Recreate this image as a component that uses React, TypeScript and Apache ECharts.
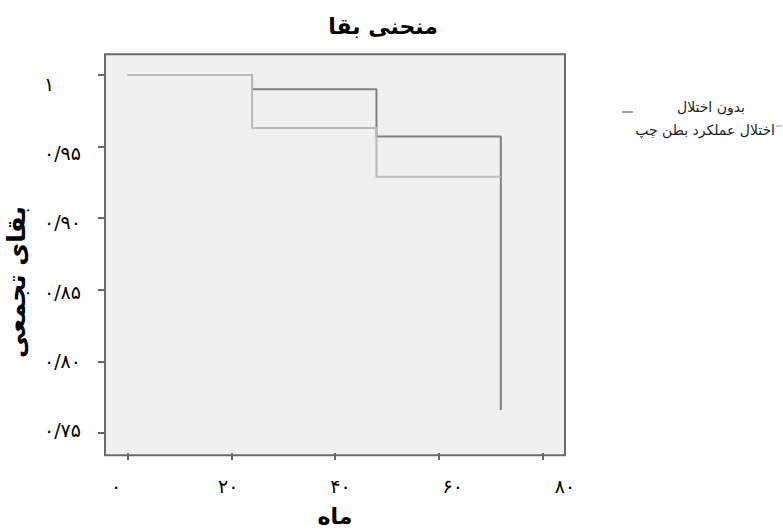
import React, { useEffect, useRef } from 'react';
import * as echarts from 'echarts';

const months = [0, 24, 48, 72];
const survivalNoDysfunction = [1, 0.99, 0.957, 0.766];
const survivalLVDysfunction = [1, 0.963, 0.929, 0.929];
const seriesNames = ['بدون اختلال', 'اختلال عملکرد بطن چپ'];
const seriesColors = ['#808080', '#bababa'];

const xTickValues = [0, 20, 40, 60, 80];
const xTickLabels = ['۰', '۲۰', '۴۰', '۶۰', '۸۰'];
const yTickValues = [0.75, 0.8, 0.85, 0.9, 0.95, 1];
const yTickLabels = ['۰/۷۵', '۰/۸۰', '۰/۸۵', '۰/۹۰', '۰/۹۵', '۱'];

const titleText = 'منحنی بقا';
const xName = 'ماه';
const yName = 'بقای تجمعی';

const FONT = 'DejaVu Sans';

function pick(values: number[], labels: string[]) {
  return (v: number) => {
    const i = values.findIndex((t) => Math.abs(t - v) < 1e-6);
    return i >= 0 ? labels[i] : '';
  };
}

export default function App() {
  const ref = useRef<HTMLDivElement>(null);
  useEffect(() => {
    if (!ref.current) return;
    const chart = echarts.init(ref.current, undefined, { renderer: 'svg' });
    const frameColor = '#6a6a6a';
    const option: any = {
      animation: false,
      backgroundColor: '#ffffff',
      textStyle: { fontFamily: FONT },
      title: {
        text: titleText,
        left: 378,
        top: 10,
        textAlign: 'center',
        textStyle: { fontFamily: FONT, fontSize: 22, fontWeight: 'bold', color: '#000' },
      },
      grid: [
        { left: 127.7, right: 240.7, top: 75, bottom: 96.7 },
        { left: 116, right: 218, top: 400, bottom: 62 },
        { left: 52, width: 20, top: 84, bottom: 102 },
      ],
      xAxis: [
        {
          gridIndex: 0,
          type: 'value',
          min: 0,
          max: 80,
          interval: 20,
          offset: 20,
          axisLine: { show: false, onZero: false },
          axisTick: { show: true, length: 7, lineStyle: { color: frameColor, width: 2 } },
          axisLabel: { show: false },
          splitLine: { show: false },
          name: xName,
          nameLocation: 'middle',
          nameGap: 52,
          nameTextStyle: { fontFamily: FONT, fontSize: 22, fontWeight: 'bold', color: '#000' },
        },
        {
          gridIndex: 1,
          type: 'value',
          min: 0,
          max: 80,
          interval: 20,
          axisLine: { show: false, onZero: false },
          axisTick: { show: false },
          splitLine: { show: false },
          axisLabel: {
            formatter: pick(xTickValues, xTickLabels),
            fontFamily: FONT,
            fontSize: 19,
            color: '#000',
            margin: 6,
          },
        },
        { gridIndex: 2, type: 'value', show: false },
      ],
      yAxis: [
        {
          gridIndex: 0,
          type: 'value',
          min: 0.75,
          max: 1,
          interval: 0.05,
          offset: 22.7,
          axisLine: { show: false, onZero: false },
          axisTick: { show: true, length: 7, lineStyle: { color: frameColor, width: 2 } },
          axisLabel: { show: false },
          splitLine: { show: false },
        },
        { gridIndex: 1, type: 'value', show: false },
        {
          gridIndex: 2,
          type: 'value',
          min: 0.75,
          max: 1,
          interval: 0.05,
          axisLine: { show: false, onZero: false },
          axisTick: { show: false },
          splitLine: { show: false },
          axisLabel: {
            formatter: pick(yTickValues, yTickLabels),
            fontFamily: FONT,
            fontSize: 19,
            color: '#000',
            margin: 8,
            align: 'left',
          },
        },
      ],
      graphic: [
        {
          type: 'rect',
          z: -1,
          silent: true,
          shape: { x: 105, y: 54.3, width: 460, height: 401 },
          style: { fill: '#f0f0f0', stroke: frameColor, lineWidth: 2 },
        },
        {
          type: 'text',
          x: 16,
          y: 282,
          rotation: Math.PI / 2,
          style: {
            text: yName,
            fontFamily: FONT,
            fontSize: 25,
            fontWeight: 'bold',
            fill: '#000',
            align: 'center',
            verticalAlign: 'middle',
            textAlign: 'center',
            textVerticalAlign: 'middle',
          },
        },
        {
          type: 'line',
          shape: { x1: 622, y1: 112, x2: 633, y2: 112 },
          style: { stroke: seriesColors[0], lineWidth: 1.5 },
        },
        {
          type: 'text',
          x: 745,
          y: 107,
          style: {
            text: seriesNames[0],
            fontFamily: FONT,
            fontSize: 14,
            fill: '#222',
            align: 'right',
            verticalAlign: 'middle',
            textAlign: 'right',
            textVerticalAlign: 'middle',
          },
        },
        {
          type: 'line',
          shape: { x1: 776, y1: 126, x2: 782, y2: 126 },
          style: { stroke: seriesColors[1], lineWidth: 1.5 },
        },
        {
          type: 'text',
          x: 775,
          y: 130,
          style: {
            text: seriesNames[1],
            fontFamily: FONT,
            fontSize: 14,
            fill: '#222',
            align: 'right',
            verticalAlign: 'middle',
            textAlign: 'right',
            textVerticalAlign: 'middle',
          },
        },
      ],
      series: [
        {
          name: seriesNames[0],
          type: 'line',
          xAxisIndex: 0,
          yAxisIndex: 0,
          step: 'end',
          symbol: 'none',
          showSymbol: false,
          data: months.map((m, i) => [m, survivalNoDysfunction[i]]),
          lineStyle: { color: seriesColors[0], width: 2 },
          itemStyle: { color: seriesColors[0] },
        },
        {
          name: seriesNames[1],
          type: 'line',
          xAxisIndex: 0,
          yAxisIndex: 0,
          step: 'end',
          symbol: 'none',
          showSymbol: false,
          data: months.map((m, i) => [m, survivalLVDysfunction[i]]),
          lineStyle: { color: seriesColors[1], width: 2 },
          itemStyle: { color: seriesColors[1] },
        },
      ],
    };
    chart.setOption(option);
    return () => chart.dispose();
  }, []);
  return (
    <div
      ref={ref}
      style={{ position: 'absolute', left: 0, top: 0, width: 783, height: 532 }}
    />
  );
}
